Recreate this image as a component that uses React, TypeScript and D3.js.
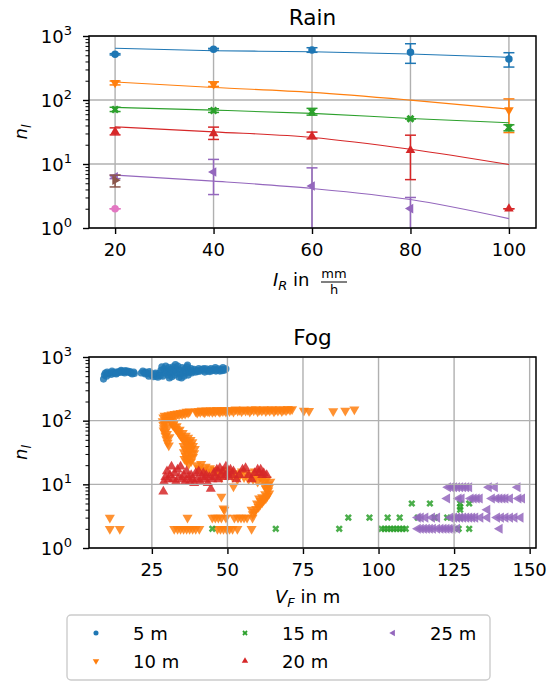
import React, { useRef, useEffect } from 'react';
import * as d3 from 'd3';

const COLORS = ['#1f77b4', '#ff7f0e', '#2ca02c', '#d62728', '#9467bd', '#8c564b', '#e377c2'];
const LABELS = ['5 m', '10 m', '15 m', '20 m', '25 m'];
const SHAPES = ['o', 'v', 'X', '^', '<', '>', 'o'];

// Rain: mean counts, error bounds and fitted curve at each intensity
const rainX = [20, 40, 60, 80, 100];
const rain5 = [517, 620, 603, 556, 437];
const rain5Lo = [505, 600, 556, 374, 327];
const rain5Hi = [530, 640, 656, 757, 548];
const rain10 = [186, 177, null, null, 69.5];
const rain10Lo = [172, 163, null, null, 31];
const rain10Hi = [198, 192, null, null, 104];
const rain15 = [71.3, 68.7, 65.3, 50.8, 37.3];
const rain15Lo = [66, 64, 58, 50.8, 33];
const rain15Hi = [77, 73, 74, 50.8, 41];
const rain20 = [31.8, 30, 27.2, 16.4, 2.0];
const rain20Lo = [28.5, 24.2, 24.7, 5.7, 2.0];
const rain20Hi = [36.7, 37.7, 31.5, 28.2, 2.0];
const rain25 = [6.3, 7.5, 4.54, 2.01, null];
const rain25Lo = [5.9, 3.33, 0.3, 0.3, null];
const rain25Hi = [6.7, 11.8, 8.7, 3.0, null];
const rain30 = [5.58, null, null, null, null];
const rain30Lo = [4.38, null, null, null, null];
const rain30Hi = [6.7, null, null, null, null];
const rain35 = [2.0, null, null, null, null];
const rain35Lo = [2.0, null, null, null, null];
const rain35Hi = [2.0, null, null, null, null];

const rainFit5 = [642, 589, 568, 523, 464];
const rainFit10 = [191, 157, 131.5, 99.6, 72];
const rainFit15 = [76.6, 69.5, 61.7, 51.5, 44];
const rainFit20 = [38.1, 31.8, 26, 17, 9.8];
const rainFit25 = [6.7, 5.4, 4.14, 2.78, 1.4];

// Fog: [visibility, count]
const fog5 = [
  [9, 450], [9.3, 520], [9.6, 560], [10, 500], [10.5, 540], [11, 560], [11.5, 530], [12, 570], [12.5, 550], [13, 580],
  [13.5, 560], [14, 590], [14.5, 570], [15, 600], [15.5, 580], [16, 560], [16.5, 590], [17, 600], [17.5, 570], [18, 560],
  [18.5, 540], [19, 580], [21.5, 560], [22, 600], [22.5, 570], [23, 580], [23.5, 540], [24, 500], [24.5, 560], [25, 520],
  [25.5, 490], [26, 540], [26.5, 500], [27, 480], [27.5, 560], [28, 620], [28.3, 700], [28.6, 500], [29, 650], [29.3, 560],
  [29.6, 720], [30, 600], [30.3, 520], [30.6, 680], [31, 560], [31.3, 640], [31.6, 490], [32, 700], [32.3, 600], [32.6, 520],
  [33, 660], [33.3, 560], [33.6, 720], [34, 480], [34.3, 620], [34.6, 540], [35, 680], [35.3, 600], [35.6, 500], [36, 650],
  [36.3, 560], [36.6, 700], [37, 520], [37.3, 620], [37.6, 580], [38, 660], [38.5, 600], [39, 640], [39.5, 580], [40, 620],
  [40.5, 660], [41, 600], [41.5, 640], [42, 620], [42.5, 580], [43, 650], [43.5, 600], [44, 630], [44.5, 660], [45, 610],
  [45.5, 640], [46, 680], [46.5, 620], [47, 650], [47.5, 600], [48, 640], [48.5, 680], [49, 620], [49.5, 650],
  [10.2, 580], [11.8, 600], [13.2, 540], [14.8, 620], [16.2, 610], [17.8, 590], [19.2, 550], [22.8, 540], [24.2, 590],
  [26.2, 560], [27.8, 510], [30.8, 470], [32.8, 760], [34.8, 470], [36.8, 750], [38.2, 560], [40.2, 590], [42.2, 660],
  [44.2, 590], [46.2, 600], [48.2, 610],
];
const fog10 = [
  [28.8, 112], [29.2, 120], [29.6, 104], [30, 118], [30.5, 122], [31, 114], [31.5, 125], [32, 119], [32.5, 128], [33, 121],
  [33.5, 130], [34, 125], [34.5, 132], [35, 127], [35.5, 135], [36, 129], [36.5, 138], [37, 133], [37.5, 140],
  [39.5, 140], [40, 134], [40.5, 142], [41, 137], [41.5, 145], [42, 139], [42.5, 135], [43, 145], [43.5, 141], [44, 138],
  [44.5, 146], [45, 137], [45.5, 144], [46, 139], [46.5, 147], [47, 142], [47.5, 137], [48, 146], [48.5, 141], [49, 148],
  [49.5, 139], [50, 145], [50.7, 141], [51.4, 148], [52, 138], [52.7, 150], [53.4, 144], [54, 148], [54.7, 140], [55.4, 150],
  [56, 143], [56.7, 147], [57.4, 139], [58, 150], [58.7, 145], [59.4, 152], [60, 140], [60.7, 148], [61.4, 144], [62, 151],
  [62.7, 141], [63.4, 149], [64, 144], [64.7, 152], [65.4, 140], [66, 149], [66.7, 143], [67.4, 152], [68, 141], [68.7, 149],
  [69.4, 145], [70, 153], [70.7, 147], [71.4, 151], [75.3, 143], [77, 142], [85, 141], [89, 143], [92, 150],
  [28.6, 98], [28.8, 86], [29, 76], [29.2, 66], [29.5, 58], [29.8, 51], [30.2, 45], [30.6, 41], [30.4, 80], [31, 100],
  [31.5, 92], [32, 85], [32.5, 80], [33, 74], [33.5, 69], [34, 63], [34.5, 58], [35, 54], [35.5, 50], [36, 47],
  [36.6, 44], [37.2, 47], [37.8, 42], [35.5, 40], [36, 36], [35.6, 32], [36.2, 28], [35.8, 25], [36.5, 23], [37.2, 21],
  [38, 23], [38.6, 27], [39, 31], [39.2, 36], [38.6, 40], [37.4, 34], [36.8, 30], [37.6, 26],
  [29.4, 92], [28.9, 70], [30, 62], [30.8, 55], [31.5, 100], [32.2, 90], [33.2, 82], [34.2, 72], [35.2, 64], [36.2, 58],
  [37, 54], [37.8, 50], [38.4, 46], [38, 37], [37, 38], [36.6, 25], [37.8, 31],
  [39.8, 20], [40.6, 18], [41.3, 21], [42, 17], [42.8, 19], [43.5, 16], [44.2, 18], [45, 15], [45.8, 17], [46.5, 14],
  [47.3, 16], [48, 13], [48.8, 15], [49.5, 17], [50.3, 14], [51, 16], [51.8, 13], [52.5, 15], [53.3, 12], [54, 14],
  [54.8, 16], [55.5, 13], [56.3, 15], [57, 12], [57.8, 14], [58.5, 12], [59.3, 13], [60, 11], [60.8, 13], [61.5, 12],
  [62.3, 11], [63, 12], [63.5, 10], [63.8, 9], [63.5, 8], [63.8, 7.2], [63.2, 6.6], [62.7, 6], [62, 5.6], [61.5, 5.2],
  [60.8, 4.8], [60.3, 4.4], [59.5, 4.1], [59, 3.7], [58.4, 3.4], [62.5, 7], [61.5, 6.3], [61, 5.5],
  [64.2, 11], [62.8, 8.5], [62.3, 9.5], [60.5, 6], [59.8, 5], [61.2, 14], [59, 16],
  [52, 9.3], [48, 6.4], [48.7, 4.2], [49, 4], [58, 4],
  [11.1, 3], [36.8, 3], [45, 3], [46, 3], [47, 3], [48, 3], [49.5, 3], [52.3, 3], [53.5, 3], [54.5, 3], [55.5, 3], [56.5, 3], [58.3, 3],
  [11.1, 2], [14.4, 2], [32.4, 2], [33.5, 2], [34.5, 2], [35.5, 2], [36.5, 2], [37.5, 2], [38.5, 2], [39.5, 2], [40.7, 2],
  [46.7, 2], [47.7, 2], [48.7, 2], [49.7, 2], [50.7, 2], [51.7, 2], [53.3, 2], [58, 2],
];
const fog15 = [
  [45, 2], [66, 2], [87, 2], [101, 2], [102, 2], [103, 2], [104, 2], [105, 2], [106, 2], [107, 2], [108, 2], [109, 2],
  [126.5, 2], [130, 2],
  [90, 3], [97, 3], [103, 3], [107, 3], [113, 3], [118.5, 3], [122.7, 3], [127, 3],
  [127, 4], [127, 4.4], [111, 5], [117, 5], [127, 5], [130, 5],
];
const fog20 = [
  [28.8, 7.7], [29, 11], [29.5, 13], [30, 16], [30.5, 12], [31, 14], [31.5, 19], [32, 12], [32.5, 15], [33, 11],
  [33.5, 17], [34, 13], [34.5, 19], [35, 12], [35.5, 14], [36, 11], [36.5, 16], [37, 13], [37.5, 11], [38, 14],
  [38.5, 12], [39, 10.5], [39.5, 15], [40, 12], [40.5, 16], [41, 11], [41.5, 13], [42, 15], [42.5, 12], [43, 14],
  [43.5, 10.5], [44, 13], [44.5, 8.5], [45, 12], [45.5, 15], [46, 13], [46.5, 17], [47, 12], [47.5, 18], [48, 14],
  [48.5, 16], [49, 13], [49.5, 19], [50, 15], [50.5, 13], [51, 17], [51.5, 14], [52, 16], [53, 12], [54, 14],
  [55, 17], [56, 18], [57, 14], [58, 12], [59, 15], [60, 17], [60.5, 15], [61, 17], [61.5, 14], [62, 15], [63, 14],
];
const fog25 = [
  [123, 9], [124, 9], [125, 9], [126, 9], [127, 9], [128, 9], [129, 9], [130, 9], [136.5, 9], [138.5, 9], [146, 9],
  [122.7, 6], [126.5, 6], [127.5, 6], [130.5, 6], [131.5, 6], [132.5, 6], [133.5, 6], [137.5, 6], [139, 6], [140, 6],
  [141, 6], [142, 6], [143.5, 6], [146.3, 6], [147.5, 6],
  [136, 4],
  [113, 3], [114, 3], [115.5, 3], [117.7, 3], [119.4, 3], [123.8, 3], [125, 3], [126, 3], [127, 3], [128, 3], [129, 3],
  [130, 3], [131, 3], [132, 3], [133.7, 3], [136, 3], [139.2, 3], [140.5, 3], [142, 3], [143.5, 3], [145, 3], [147, 3],
  [113, 2], [114, 2], [115, 2], [116, 2], [117, 2], [118, 2], [119.4, 2], [120.5, 2], [121.5, 2], [122.5, 2], [123.5, 2],
  [124.5, 2], [126, 2], [140.1, 2],
];

const rainXTicks = [20, 40, 60, 80, 100];
const fogXTicks = [25, 50, 75, 100, 125, 150];
const yTicks = [1, 10, 100, 1000];

const FONT = 'DejaVu Sans, sans-serif';

function markerPath(shape, size) {
  const t = shape === 'o' ? d3.symbolCircle : shape === 'X' ? d3.symbolCross : d3.symbolTriangle;
  return d3.symbol().type(t).size(size)();
}
function markerRot(shape) {
  return { v: 180, '^': 0, '<': -90, '>': 90, X: 45, o: 0 }[shape];
}

const App = () => {
  const svgRef = useRef();

  useEffect(() => {
    const svg = d3.select(svgRef.current).html('');
    const left = 89, right = 536;

    const drawAxes = (g, x, y, top, bottom, xTicks, id) => {
      g.append('clipPath').attr('id', id)
        .append('rect').attr('x', left).attr('y', top).attr('width', right - left).attr('height', bottom - top);
      const grid = g.append('g');
      xTicks.forEach(t => grid.append('line').attr('x1', x(t)).attr('x2', x(t)).attr('y1', top).attr('y2', bottom));
      yTicks.forEach(t => grid.append('line').attr('x1', left).attr('x2', right).attr('y1', y(t)).attr('y2', y(t)));
      grid.attr('stroke', '#b0b0b0').attr('stroke-width', 1.4);

      // minor ticks
      const minors = [];
      [1, 10, 100].forEach(d => { for (let k = 2; k < 10; k++) minors.push(d * k); });
      g.append('g').attr('transform', `translate(${left},0)`)
        .call(d3.axisLeft(y).tickValues(minors).tickSize(3.5).tickFormat(() => ''))
        .call(s => s.select('.domain').remove())
        .selectAll('line').attr('stroke-width', 1);
      g.append('g').attr('transform', `translate(${left},0)`)
        .call(d3.axisLeft(y).tickValues(yTicks).tickSize(6).tickFormat(() => ''))
        .call(s => s.select('.domain').remove())
        .selectAll('line').attr('stroke-width', 1.4);
      g.append('g').attr('transform', `translate(0,${bottom})`)
        .call(d3.axisBottom(x).tickValues(xTicks).tickSize(6).tickFormat(() => ''))
        .call(s => s.select('.domain').remove())
        .selectAll('line').attr('stroke-width', 1.4);

      // y labels 10^k
      yTicks.forEach((t, i) => {
        const tx = g.append('text').attr('x', 72).attr('y', y(t) + 6.5).attr('text-anchor', 'end')
          .attr('font-family', FONT).attr('font-size', 18);
        tx.append('tspan').text('10');
        tx.append('tspan').attr('font-size', 13).attr('dy', -8).text(String(i));
      });
      xTicks.forEach(t => {
        g.append('text').attr('x', x(t)).attr('y', bottom + 28).attr('text-anchor', 'middle')
          .attr('font-family', FONT).attr('font-size', 18).text(String(t));
      });

      // y axis title
      const yl = g.append('text').attr('transform', `translate(27,${(top + bottom) / 2}) rotate(-90)`)
        .attr('text-anchor', 'middle').attr('font-family', FONT).attr('font-size', 18).attr('font-style', 'italic');
      yl.append('tspan').text('n');
      yl.append('tspan').attr('font-size', 13).attr('dy', 4).text('l');
      return grid;
    };

    const frame = (g, top, bottom) => {
      g.append('rect').attr('x', left).attr('y', top).attr('width', right - left).attr('height', bottom - top)
        .attr('fill', 'none').attr('stroke', '#000').attr('stroke-width', 1.5);
    };

    // ---------- Rain ----------
    const rTop = 36, rBottom = 228;
    const rx = d3.scaleLinear().domain([14.7, 105.5]).range([left, right]);
    const ry = d3.scaleLog().domain([1, 1000]).range([rBottom, rTop]);
    const rg = svg.append('g');
    rg.append('text').attr('x', (left + right) / 2).attr('y', 25).attr('text-anchor', 'middle')
      .attr('font-family', FONT).attr('font-size', 21.6).text('Rain');
    drawAxes(rg, rx, ry, rTop, rBottom, rainXTicks, 'clipRain');

    const rainSeries = [
      { v: rain5, lo: rain5Lo, hi: rain5Hi, fit: rainFit5 },
      { v: rain10, lo: rain10Lo, hi: rain10Hi, fit: rainFit10 },
      { v: rain15, lo: rain15Lo, hi: rain15Hi, fit: rainFit15 },
      { v: rain20, lo: rain20Lo, hi: rain20Hi, fit: rainFit20 },
      { v: rain25, lo: rain25Lo, hi: rain25Hi, fit: rainFit25 },
      { v: rain30, lo: rain30Lo, hi: rain30Hi, fit: null },
      { v: rain35, lo: rain35Lo, hi: rain35Hi, fit: null },
    ];
    const rd = rg.append('g').attr('clip-path', 'url(#clipRain)');
    const fitLine = d3.line().x((d, i) => rx(rainX[i])).y(d => ry(d)).curve(d3.curveMonotoneX);
    rainSeries.forEach((s, si) => {
      const c = COLORS[si];
      const sg = rd.append('g');
      s.v.forEach((val, i) => {
        if (val == null) return;
        const xx = rx(rainX[i]);
        sg.append('line').attr('x1', xx).attr('x2', xx).attr('y1', ry(s.lo[i])).attr('y2', ry(s.hi[i]))
          .attr('stroke', c).attr('stroke-width', 1.5);
        [s.lo[i], s.hi[i]].forEach(b => {
          if (b < 1) return;
          sg.append('line').attr('x1', xx - 5.5).attr('x2', xx + 5.5).attr('y1', ry(b)).attr('y2', ry(b))
            .attr('stroke', c).attr('stroke-width', 1.5);
        });
        sg.append('path').attr('d', markerPath(SHAPES[si], SHAPES[si] === 'o' ? 44 : 40))
          .attr('transform', `translate(${xx},${ry(val)}) rotate(${markerRot(SHAPES[si])})`)
          .attr('fill', c);
      });
      if (s.fit) {
        sg.append('path').datum(s.fit).attr('d', fitLine).attr('fill', 'none')
          .attr('stroke', c).attr('stroke-width', 1.1);
      }
    });
    frame(rg, rTop, rBottom);

    // x label: I_R in mm/h
    const xl = rg.append('text').attr('x', 273).attr('y', 286).attr('font-family', FONT).attr('font-size', 18);
    xl.append('tspan').attr('font-style', 'italic').text('I');
    xl.append('tspan').attr('font-style', 'italic').attr('font-size', 13).attr('dy', 4).text('R');
    xl.append('tspan').attr('dy', -4).text(' in');
    rg.append('text').attr('x', 334).attr('y', 278).attr('text-anchor', 'middle')
      .attr('font-family', FONT).attr('font-size', 13).text('mm');
    rg.append('line').attr('x1', 321).attr('x2', 347).attr('y1', 282).attr('y2', 282)
      .attr('stroke', '#000').attr('stroke-width', 1);
    rg.append('text').attr('x', 334).attr('y', 294).attr('text-anchor', 'middle')
      .attr('font-family', FONT).attr('font-size', 13).text('h');

    // ---------- Fog ----------
    const fTop = 357, fBottom = 548;
    const fx = d3.scaleLinear().domain([4.2, 152.1]).range([left, right]);
    const fy = d3.scaleLog().domain([1, 1000]).range([fBottom, fTop]);
    const fg = svg.append('g');
    fg.append('text').attr('x', (left + right) / 2).attr('y', 345).attr('text-anchor', 'middle')
      .attr('font-family', FONT).attr('font-size', 21.6).text('Fog');
    const fogData = [fog5, fog10, fog15, fog20, fog25];
    const fd = fg.append('g').attr('clip-path', 'url(#clipFog)');
    const fgrid = drawAxes(fg, fx, fy, fTop, fBottom, fogXTicks, 'clipFog');
    fogData.forEach((pts, si) => {
      const shape = SHAPES[si];
      const p = markerPath(shape, shape === 'o' ? 40 : shape === 'X' ? 32 : 44);
      fd.append('g').selectAll('path').data(pts).join('path')
        .attr('d', p)
        .attr('transform', d => `translate(${fx(d[0])},${fy(d[1])}) rotate(${markerRot(shape)})`)
        .attr('fill', COLORS[si]).attr('fill-opacity', 0.85);
    });
    fgrid.raise();
    frame(fg, fTop, fBottom);

    const fxl = fg.append('text').attr('x', 275).attr('y', 603).attr('font-family', FONT).attr('font-size', 18);
    fxl.append('tspan').attr('font-style', 'italic').text('V');
    fxl.append('tspan').attr('font-style', 'italic').attr('font-size', 13).attr('dy', 4).text('F');
    fxl.append('tspan').attr('dy', -4).text(' in m');

    // ---------- Legend ----------
    const lg = svg.append('g');
    lg.append('rect').attr('x', 67).attr('y', 615).attr('width', 423).attr('height', 65).attr('rx', 4)
      .attr('fill', '#fff').attr('stroke', '#cccccc').attr('stroke-width', 1.4);
    const colX = [96, 245, 393];
    const rowY = [633, 661];
    LABELS.forEach((lab, i) => {
      const cx = colX[Math.floor(i / 2)];
      const cy = rowY[i % 2];
      const shape = SHAPES[i];
      lg.append('path').attr('d', markerPath(shape, shape === 'o' ? 20 : 18))
        .attr('transform', `translate(${cx},${cy}) rotate(${markerRot(shape)})`)
        .attr('fill', COLORS[i]);
      lg.append('text').attr('x', cx + 37).attr('y', cy + 6.5)
        .attr('font-family', FONT).attr('font-size', 18).text(lab);
    });
  }, []);

  return <svg ref={svgRef} width={557} height={682} style={{ position: 'absolute', left: 0, top: 0, background: '#fff' }} />;
};

export default App;
